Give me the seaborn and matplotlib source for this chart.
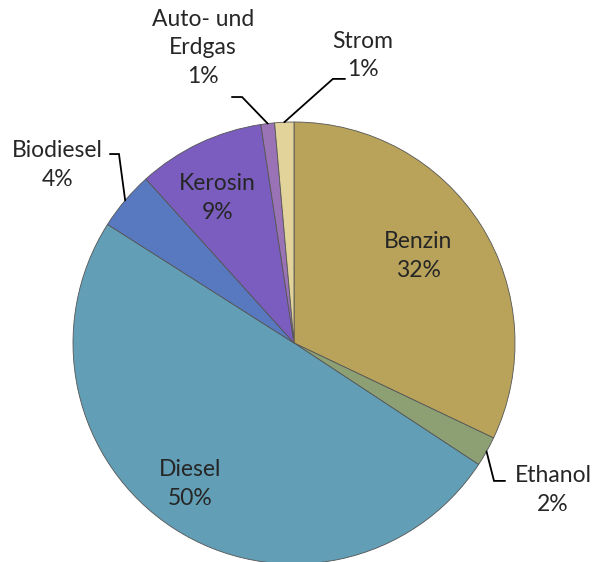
import numpy as np
import matplotlib
matplotlib.use("Agg")
import matplotlib.pyplot as plt
import seaborn as sns

# shares, clockwise from 12 o'clock
categories = ["Benzin", "Ethanol", "Diesel", "Biodiesel", "Kerosin", "Auto- und\nErdgas", "Strom"]
shares = [32.1, 2.2, 49.8, 4.3, 9.3, 1.0, 1.4]
colors = ["#B9A35B", "#8CA074", "#629EB5", "#5879C0", "#7A5DBE", "#9A72B6", "#E2D39B"]

sns.set_theme(style="white")
plt.rcParams["font.family"] = ["Lato", "DejaVu Sans"]

W, H = 596, 562
cx, cy, R = 294, 343, 221  # pie centre / radius in pixels

fig = plt.figure(figsize=(W / 100, H / 100), dpi=100)
ax = fig.add_axes([0, 0, 1, 1])
ax.axis("off")

wedges, _ = ax.pie(shares, colors=sns.color_palette(colors), startangle=90,
                   counterclock=False, radius=1.0,
                   wedgeprops=dict(edgecolor="#555555", linewidth=0.6))

ax.set_xlim(-cx / R, (W - cx) / R)
ax.set_ylim(-(H - cy) / R, cy / R)
ax.set_aspect("equal", adjustable="box")

labels = [f"{c}\n{round(s):.0f}%" for c, s in zip(categories, shares)]

# inside labels: text centre
inside = {0: (0.561, 0.394), 2: (-0.471, -0.638), 4: (-0.348, 0.656)}
# outside labels: text centre, elbow of leader, end of leader
outside = {
    1: ((1.172, -0.665), (0.905, -0.624), (0.955, -0.624)),
    3: ((-1.072, 0.805), (-0.792, 0.855), (-0.833, 0.855)),
    5: ((-0.412, 1.335), (-0.235, 1.113), (-0.281, 1.113)),
    6: ((0.312, 1.301), (0.176, 1.195), (0.231, 1.195)),
}

fs = 16.5
ls = 1.45
for i, lab in enumerate(labels):
    if i in inside:
        x, y = inside[i]
        ax.text(x, y, lab, ha="center", va="center", fontsize=fs,
                color="#262626", linespacing=ls)
    else:
        (tx, ty), (ex, ey), (fx, fy) = outside[i]
        w = wedges[i]
        mid = np.deg2rad((w.theta1 + w.theta2) / 2)
        px, py = np.cos(mid), np.sin(mid)
        ax.plot([px, ex, fx], [py, ey, fy], color="black", lw=1.3,
                solid_joinstyle="miter")
        ax.text(tx, ty, lab, ha="center", va="center", fontsize=fs,
                color="#262626", linespacing=ls)

fig.savefig("out.png", dpi=100)
